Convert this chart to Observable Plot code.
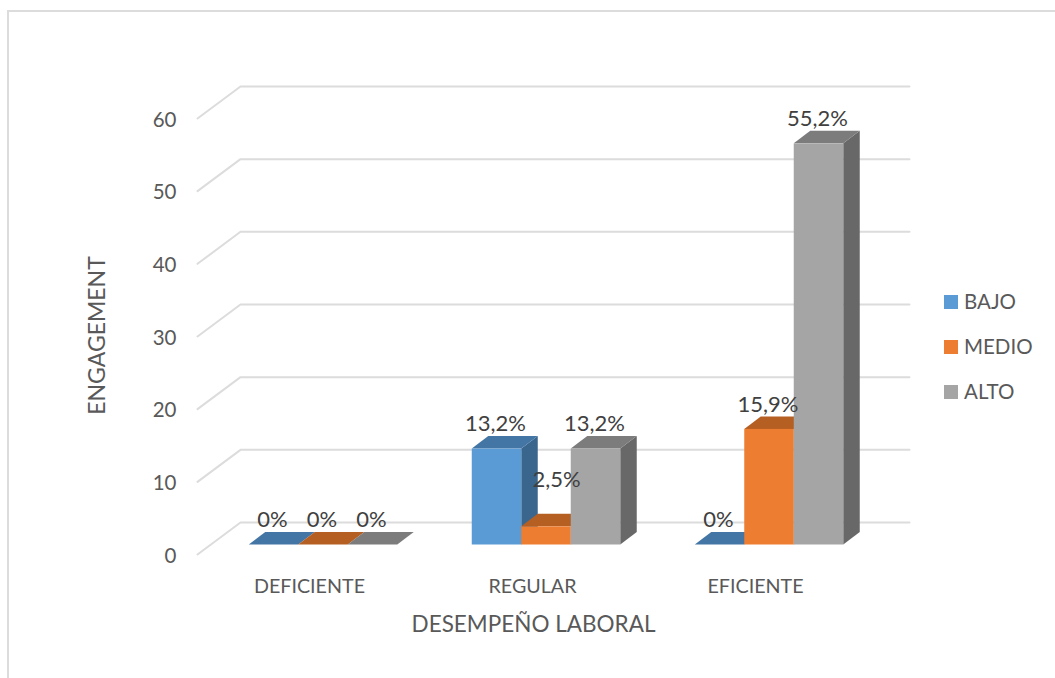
<!DOCTYPE html>
<html>
<head>
<meta charset="utf-8">
<script src="https://cdn.jsdelivr.net/npm/d3@7"></script>
<script src="https://cdn.jsdelivr.net/npm/@observablehq/plot@0.6"></script>
<style>
html,body{margin:0;padding:0;background:#fff}
#wrap{position:relative;width:1055px;height:678px;overflow:hidden;font-family:Lato,sans-serif}
#frame{position:absolute;left:7px;top:10px;right:-4px;bottom:-4px;border:2px solid #dcdcdc;box-sizing:border-box}
#chart{position:absolute;left:0;top:0}
#chart svg{background:transparent!important}
#legend{position:absolute;left:944px;top:280px}
.item{position:absolute;left:0;display:flex;align-items:center;height:44px;white-space:nowrap;color:#595959;font-size:20.5px}
.item span{position:relative;top:-1px}
.swatch{width:14px;height:14px;margin-right:6px;flex:none}
</style>
</head>
<body>
<div id="wrap"><div id="frame"></div><div id="chart"></div><div id="legend"></div></div>
<script>
const categories = ["DEFICIENTE", "REGULAR", "EFICIENTE"];
const bajo = [0, 13.2, 0];
const medio = [0, 2.5, 15.9];
const alto = [0, 13.2, 55.2];
const seriesNames = ["BAJO", "MEDIO", "ALTO"];
const frontColors = ["#5b9bd5", "#ed7d31", "#a5a5a5"];
const topColors = ["#4476a5", "#b65f22", "#7c7c7c"];
const sideColors = ["#3a668e", "#a85820", "#686868"];
const yTicks = [0, 10, 20, 30, 40, 50, 60];
const labelTexts = [["0%", "13,2%", "0%"], ["0%", "2,5%", "15,9%"], ["0%", "13,2%", "55,2%"]];

const pxX = 223, pxY = 7.267, originX = 323, originY = 544.5;
const barW = 49.5 / pxX, depthX = 16.5 / pxX, depthY = 12.5 / pxY;
const wallY = 22.5 / pxY, frontY = -9.5 / pxY;
const wallLeft = (240 - originX) / pxX, wallRight = (909 - originX) / pxX, floorLeft = (197 - originX) / pxX;
const mL = 176, mR = 165, mT = 94, mB = 102, W = 1055, H = 678;

const values = [bajo, medio, alto];
const bars = seriesNames.flatMap((s, si) => categories.map((c, ci) => {
  const x1 = ci + (si - 1.5) * barW;
  return {
    s, si, ci, id: si + "-" + ci, x1, x2: x1 + barW, v: values[si][ci],
    label: labelTexts[si][ci], front: frontColors[si], top: topColors[si], side: sideColors[si]
  };
}));

const gridRows = yTicks.flatMap(t => [
  {t, x: floorLeft, y: t + frontY},
  {t, x: wallLeft, y: t + wallY},
  {t, x: wallRight, y: t + wallY}
]);

const barMarks = seriesNames.flatMap((s, si) => {
  const rows = bars.filter(b => b.si === si);
  const sideRows = rows.flatMap(b => [
    {id: b.id, x: b.x2, y1: 0, y2: b.v, fill: b.side},
    {id: b.id, x: b.x2 + depthX, y1: depthY, y2: b.v + depthY, fill: b.side}
  ]);
  const topRows = rows.flatMap(b => [
    {id: b.id, y: b.v, x1: b.x1, x2: b.x2, fill: b.top},
    {id: b.id, y: b.v + depthY, x1: b.x1 + depthX, x2: b.x2 + depthX, fill: b.top}
  ]);
  return [
    Plot.areaY(sideRows, {x: "x", y1: "y1", y2: "y2", z: "id", fill: "fill"}),
    Plot.areaX(topRows, {y: "y", x1: "x1", x2: "x2", z: "id", fill: "fill"}),
    Plot.rect(rows.filter(b => b.v > 0), {x1: "x1", x2: "x2", y1: 0, y2: "v", fill: "front"})
  ];
});

const labelRows = bars.map(b => ({
  ...b,
  lx: (b.x1 + b.x2) / 2 + (b.label === "2,5%" ? 11.5 / pxX : 0),
  ly: b.v + depthY + (b.label === "2,5%" ? 22 / pxY : 0)
}));

const plot = Plot.plot({
  width: W, height: H,
  marginLeft: mL, marginRight: mR, marginTop: mT, marginBottom: mB,
  style: {fontFamily: "Lato, sans-serif", background: "transparent"},
  x: {domain: [(mL - originX) / pxX, (W - mR - originX) / pxX]},
  y: {domain: [(originY - (H - mB)) / pxY, (originY - mT) / pxY]},
  marks: [
    Plot.line(gridRows, {x: "x", y: "y", z: "t", stroke: "#dcdcdc", strokeWidth: 2}),
    ...barMarks,
    Plot.text(labelRows, {x: "lx", y: "ly", text: "label", dx: -1.5, dy: -12.5, fontSize: 22, fill: "#404040"}),
    Plot.axisY({
      ticks: yTicks, tickSize: 0, tickPadding: 0, dy: 11, fontSize: 20.5, color: "#595959", label: null
    }),
    Plot.axisX({
      ticks: [0, 1, 2], tickFormat: i => categories[i], tickSize: 0, tickPadding: 2, dx: -14,
      fontSize: 19.7, color: "#595959", label: null
    }),
    Plot.text(["DESEMPEÑO LABORAL"], {frameAnchor: "bottom", dy: 55, fontSize: 22.5, fill: "#595959"}),
    Plot.text(["ENGAGEMENT"], {frameAnchor: "left", textAnchor: "middle", rotate: -90, dx: -79, fontSize: 23, fill: "#595959"})
  ]
});
document.getElementById("chart").appendChild(plot);

const legend = d3.select("#legend");
seriesNames.forEach((s, i) => {
  const item = legend.append("div").attr("class", "item").style("top", (i * 45) + "px");
  item.append("div").attr("class", "swatch").style("background", frontColors[i]);
  item.append("span").text(s);
});
</script>
</body>
</html>
